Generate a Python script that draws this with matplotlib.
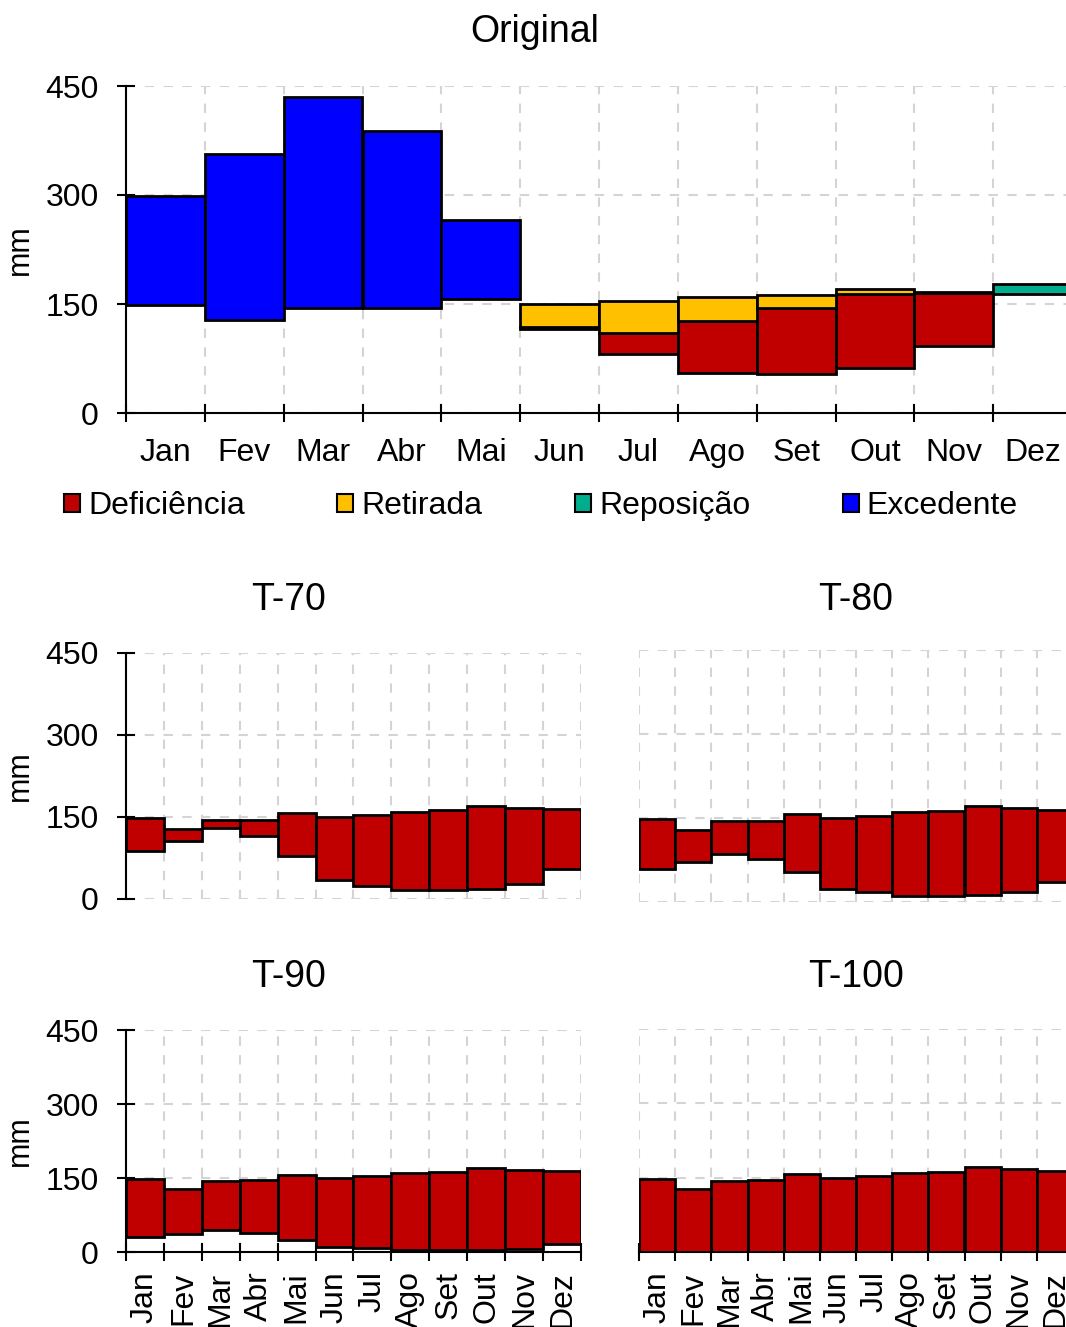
import numpy as np
import matplotlib
matplotlib.use('Agg')
import matplotlib.pyplot as plt
from matplotlib.patches import Patch

plt.rcParams['font.family'] = ['Liberation Sans', 'DejaVu Sans']

meses = ['Jan', 'Fev', 'Mar', 'Abr', 'Mai', 'Jun', 'Jul', 'Ago', 'Set', 'Out', 'Nov', 'Dez']

# balanco original: base da pilha e alturas de cada componente (mm)
orig_base = [148, 128, 144, 145, 157, 116, 81, 55, 54, 62, 92, 164]
orig_def = [0, 0, 0, 0, 0, 3, 29, 71, 91, 102, 73, 0]
orig_ret = [0, 0, 0, 0, 0, 31, 44, 34, 17, 7, 2, 0]
orig_rep = [0, 0, 0, 0, 0, 0, 0, 0, 0, 0, 0, 14]
orig_exc = [150, 228, 291, 243, 109, 0, 0, 0, 0, 0, 0, 0]

# cenarios: deficiencia vai da base ate a ETP
etp = [148, 128, 144, 145, 157, 150, 154, 160, 162, 171, 167, 164]
t70_base = [88, 107, 130, 116, 78, 35, 23, 17, 16, 18, 27, 54]
t80_base = [59, 71, 86, 77, 54, 24, 18, 11, 11, 13, 18, 36]
t90_base = [30, 36, 44, 38, 25, 10, 8, 5, 5, 5, 6, 17]
t100_base = [0, 0, 0, 0, 0, 0, 0, 0, 0, 0, 0, 0]

series = ['Deficiência', 'Retirada', 'Reposição', 'Excedente']
cores = ['#C00000', '#FFC000', '#00AE8E', '#0000FF']

W, H = 1066, 1327
fig = plt.figure(figsize=(W / 100, H / 100), dpi=100)


def caixa(l, t, r, b):
    return [l / W, 1 - b / H, (r - l) / W, (b - t) / H]


def prepara(ax, eixo_y, eixo_x, rotulos):
    ax.set_xlim(0, 12)
    ax.set_ylim(0, 450)
    ax.set_xticks(np.arange(13))
    ax.set_yticks([0, 150, 300, 450])
    ax.set_axisbelow(True)
    ax.grid(True, color='#d4d4d4', lw=1.5, ls=(0, (4.5, 4.5)))
    for s in ['top', 'right']:
        ax.spines[s].set_visible(False)
    ax.spines['left'].set_visible(eixo_y)
    ax.spines['bottom'].set_visible(eixo_x)
    for s in ['left', 'bottom']:
        ax.spines[s].set_linewidth(1.5)
    ax.tick_params(axis='y', direction='inout', length=13 if eixo_y else 0, width=1.5,
                   labelsize=23, pad=13, labelleft=eixo_y)
    ax.tick_params(axis='x', which='major', direction='inout', length=13 if eixo_x else 0,
                   width=1.5, labelbottom=False)
    if rotulos == 'h':
        ax.set_xticks(np.arange(12) + 0.5, meses, minor=True)
        ax.tick_params(axis='x', which='minor', length=0, labelsize=23, pad=18)
    elif rotulos == 'v':
        ax.set_xticks(np.arange(12) + 0.5, meses, minor=True, rotation=90)
        ax.tick_params(axis='x', which='minor', length=0, labelsize=23, pad=14)
    else:
        ax.tick_params(axis='x', which='minor', length=0)


x = np.arange(12)

# painel original
ax0 = fig.add_axes(caixa(126, 86, 1072, 413))
prepara(ax0, True, True, 'h')
fundo = np.array(orig_base, dtype=float)
for nome, cor, vals in zip(series, cores, [orig_def, orig_ret, orig_rep, orig_exc]):
    v = np.array(vals, dtype=float)
    m = v > 0
    ax0.bar(x[m], v[m], bottom=fundo[m], width=1, align='edge', color=cor,
            edgecolor='black', lw=2, zorder=3)
    fundo = fundo + v

# cenarios
paineis = [
    ('T-70', t70_base, caixa(126, 653, 581, 899), True, False, None, (289, 610)),
    ('T-80', t80_base, caixa(639, 650, 1073, 902), False, False, None, (856, 610)),
    ('T-90', t90_base, caixa(126, 1030, 581, 1252), True, True, 'v', (289, 987)),
    ('T-100', t100_base, caixa(639, 1029, 1073, 1252), False, True, 'v', (856, 987)),
]
for titulo, base, pos, ey, ex, rot, tpos in paineis:
    ax = fig.add_axes(pos)
    prepara(ax, ey, ex, rot)
    b = np.array(base, dtype=float)
    ax.bar(x, np.array(etp) - b, bottom=b, width=1, align='edge', color=cores[0],
           edgecolor='black', lw=2, zorder=3)
    fig.text(tpos[0] / W, 1 - tpos[1] / H, titulo, fontsize=27, ha='center', va='baseline')

fig.text(535 / W, 1 - 42 / H, 'Original', fontsize=27, ha='center', va='baseline')
for yc in [250, 776, 1141]:
    fig.text(20 / W, 1 - yc / H, 'mm', fontsize=22, rotation=90, ha='center', va='center')

alcas = [Patch(facecolor=c, edgecolor='black', lw=1.5) for c in cores]
fig.legend(alcas, series, loc='center', bbox_to_anchor=(541 / W, 1 - 506 / H), ncol=4,
           frameon=False, fontsize=23, handlelength=0.5, handleheight=0.5,
           handletextpad=0.25, columnspacing=2.9, borderpad=0)

fig.savefig('out.png', dpi=100)
